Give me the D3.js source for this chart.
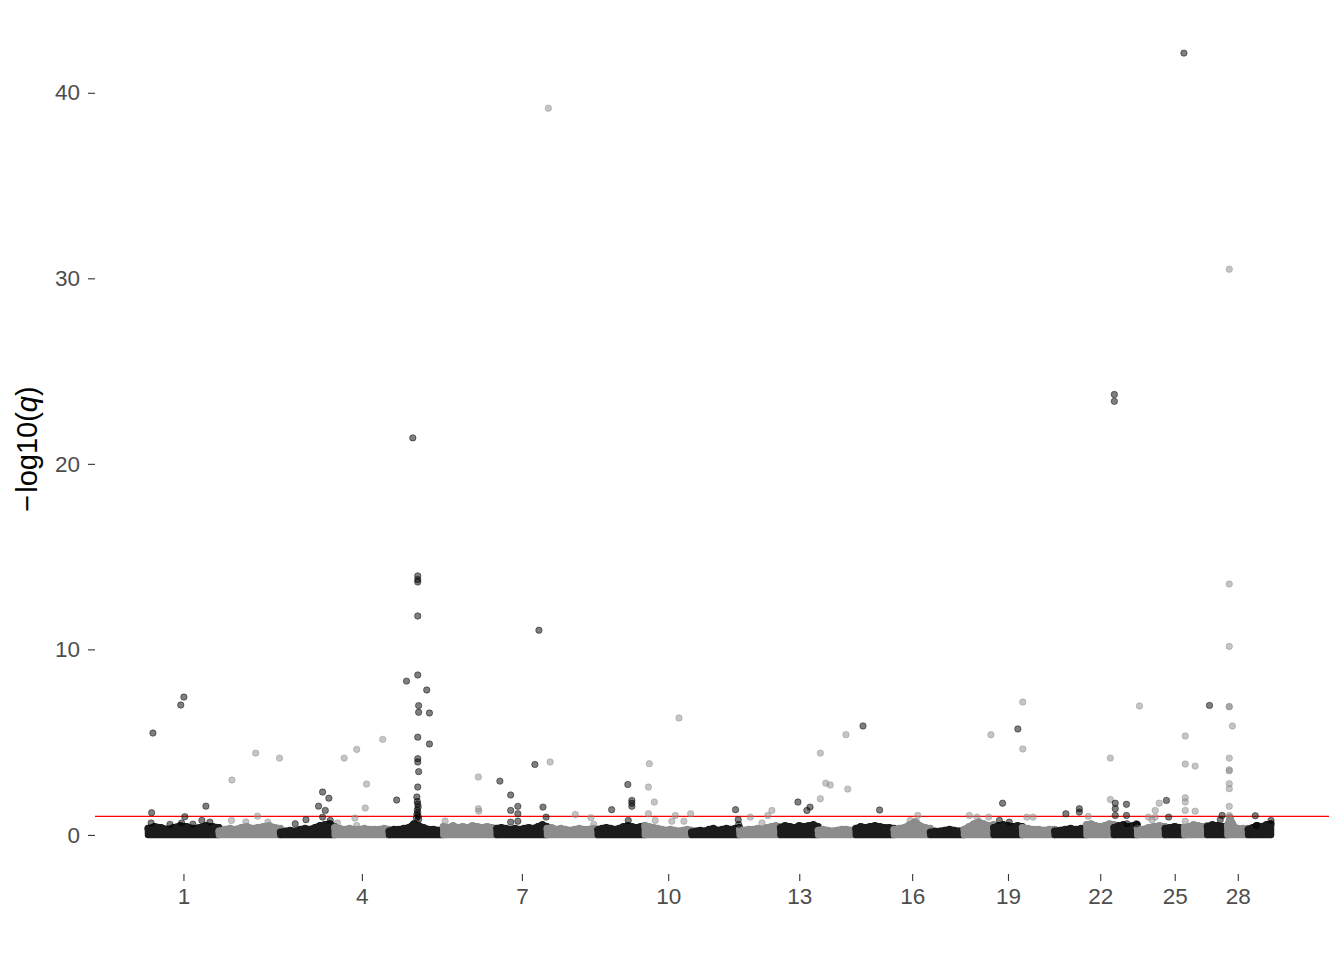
<!DOCTYPE html>
<html>
<head>
<meta charset="utf-8">
<script src="https://cdn.jsdelivr.net/npm/d3@7"></script>
<style>
  body { margin: 0; background: #fff; }
  text { font-family: "Liberation Sans", Arial, sans-serif; }
</style>
</head>
<body>
<div id="chart"></div>
<script>
// chromosome lengths (Mb), 29 autosomes
const chromLengths = [158, 137, 121, 121, 121, 119, 112, 113, 105, 104, 107, 91, 84, 84, 85,
                      81, 75, 66, 64, 72, 71, 61, 52, 62, 43, 51, 45, 46, 51];
const tickChroms = [1, 4, 7, 10, 13, 16, 19, 22, 25, 28];
const yTicks = [0, 10, 20, 30, 40];
const threshold = 1;

// top of the dense band of non-significant markers, sampled along each chromosome
const baseProfiles = [
  [0.35, 0.45, 0.4, 0.3, 0.4, 0.5, 0.45, 0.35, 0.4, 0.5, 0.45, 0.4],
  [0.2, 0.3, 0.35, 0.3, 0.4, 0.45, 0.35, 0.4, 0.45, 0.5, 0.4, 0.35],
  [0.15, 0.2, 0.25, 0.2, 0.3, 0.35, 0.3, 0.4, 0.5, 0.55, 0.6, 0.45],
  [0.4, 0.35, 0.3, 0.35, 0.3, 0.3, 0.35, 0.3, 0.3, 0.3, 0.35, 0.3],
  [0.2, 0.3, 0.3, 0.35, 0.4, 0.6, 0.5, 0.4, 0.3, 0.3, 0.25, 0.3],
  [0.45, 0.4, 0.5, 0.4, 0.45, 0.4, 0.5, 0.45, 0.4, 0.45, 0.4, 0.35],
  [0.35, 0.4, 0.35, 0.3, 0.35, 0.3, 0.35, 0.4, 0.35, 0.45, 0.55, 0.45],
  [0.35, 0.4, 0.3, 0.35, 0.3, 0.25, 0.3, 0.35, 0.3, 0.3, 0.35, 0.3],
  [0.3, 0.35, 0.4, 0.35, 0.3, 0.35, 0.45, 0.5, 0.45, 0.4, 0.45, 0.5],
  [0.5, 0.45, 0.4, 0.35, 0.3, 0.25, 0.3, 0.25, 0.2, 0.25, 0.3, 0.25],
  [0.15, 0.2, 0.25, 0.2, 0.3, 0.35, 0.25, 0.3, 0.35, 0.3, 0.35, 0.4],
  [0.3, 0.25, 0.3, 0.3, 0.35, 0.3, 0.4, 0.45, 0.5, 0.45],
  [0.4, 0.5, 0.45, 0.4, 0.5, 0.45, 0.5, 0.55, 0.45],
  [0.25, 0.3, 0.25, 0.2, 0.25, 0.3, 0.3, 0.25, 0.3],
  [0.35, 0.45, 0.4, 0.45, 0.5, 0.45, 0.4, 0.4, 0.35],
  [0.3, 0.35, 0.4, 0.55, 0.7, 0.5, 0.4, 0.35],
  [0.15, 0.2, 0.2, 0.25, 0.3, 0.25, 0.2, 0.25],
  [0.3, 0.45, 0.6, 0.7, 0.6, 0.5, 0.55],
  [0.4, 0.5, 0.55, 0.5, 0.45, 0.5, 0.45],
  [0.4, 0.35, 0.3, 0.3, 0.25, 0.3, 0.3],
  [0.2, 0.25, 0.3, 0.35, 0.3, 0.35, 0.4],
  [0.55, 0.6, 0.5, 0.45, 0.5, 0.6, 0.55],
  [0.4, 0.5, 0.55, 0.45, 0.5, 0.55],
  [0.35, 0.3, 0.4, 0.45, 0.5, 0.45],
  [0.35, 0.4, 0.45, 0.4, 0.35],
  [0.4, 0.45, 0.55, 0.5, 0.45, 0.5],
  [0.45, 0.55, 0.5, 0.45, 0.5],
  [0.5, 0.95, 0.6, 0.4, 0.35, 0.3, 0.35, 0.3, 0.35],
  [0.3, 0.4, 0.5, 0.45, 0.55, 0.6]
];

// markers that stand out: [chromosome, position (Mb), -log10(q)]
const hits = [
  [1, 11, 5.49], [1, 8, 1.2], [1, 7, 0.64], [1, 73, 7.0], [1, 80, 7.43], [1, 129, 1.55],
  [1, 82, 0.98], [1, 75, 0.64], [1, 100, 0.58], [1, 49, 0.57], [1, 120, 0.78], [1, 138, 0.69],
  [2, 29, 2.96], [2, 82, 4.41], [2, 135, 4.14], [2, 86, 1.01], [2, 28, 0.78], [2, 109, 0.69], [2, 60, 0.7],
  [3, 33, 0.6], [3, 57, 0.82], [3, 94, 2.31], [3, 108, 1.98], [3, 85, 1.55], [3, 100, 1.32],
  [3, 94, 0.96], [3, 111, 0.78],
  [4, 21, 4.14], [4, 49, 4.61], [4, 107, 5.15], [4, 71, 2.74], [4, 68, 1.45], [4, 45, 0.91],
  [4, 6, 0.64], [4, 49, 0.51],
  [5, 53, 21.4], [5, 64, 13.96], [5, 64, 13.76], [5, 64, 13.63], [5, 64, 11.8], [5, 64, 8.62],
  [5, 39, 8.29], [5, 84, 7.81], [5, 66, 6.97], [5, 66, 6.61], [5, 90, 6.57], [5, 64, 5.27],
  [5, 90, 4.9], [5, 64, 4.11], [5, 64, 3.93], [5, 66, 3.41], [5, 64, 2.58], [5, 17, 1.88],
  [5, 62, 2.04], [5, 63, 1.8], [5, 64, 1.65], [5, 65, 1.5], [5, 63, 1.35], [5, 64, 1.2],
  [5, 62, 1.1], [5, 65, 1.0], [5, 61, 0.9], [5, 66, 0.85],
  [6, 78, 3.12], [6, 78, 1.41], [6, 79, 1.28], [6, 4, 0.75],
  [7, 7, 2.9], [7, 31, 2.15], [7, 31, 1.32], [7, 47, 1.54], [7, 47, 1.14], [7, 47, 0.74],
  [7, 31, 0.69], [7, 85, 3.8], [7, 94, 11.03], [7, 103, 1.5], [7, 110, 0.96],
  [8, 7, 3.93], [8, 3, 39.17], [8, 63, 1.1], [8, 98, 0.93], [8, 104, 0.57],
  [9, 31, 1.36], [9, 67, 2.72], [9, 76, 1.86], [9, 76, 1.71], [9, 76, 1.54], [9, 68, 0.78],
  [10, 10, 3.84], [10, 8, 2.58], [10, 21, 1.77], [10, 76, 6.3], [10, 8, 1.14], [10, 68, 1.05],
  [10, 102, 1.14], [10, 87, 0.74], [10, 60, 0.74], [10, 23, 0.78],
  [11, 98, 1.36], [11, 104, 0.82], [11, 105, 0.57],
  [12, 24, 0.96], [12, 63, 1.05], [12, 72, 1.32], [12, 50, 0.64],
  [13, 39, 1.77], [13, 59, 1.32], [13, 66, 1.5],
  [14, 5, 4.41], [14, 5, 1.95], [14, 17, 2.79], [14, 27, 2.69], [14, 62, 5.4], [14, 66, 2.47],
  [15, 16, 5.87], [15, 53, 1.34],
  [16, 53, 1.05], [16, 51, 0.69], [16, 36, 0.78],
  [18, 60, 5.4], [18, 12, 1.05], [18, 29, 0.96], [18, 55, 0.96],
  [19, 54, 5.71], [19, 20, 1.71], [19, 13, 0.78], [19, 35, 0.69],
  [20, 1, 7.16], [20, 1, 4.63], [20, 10, 0.96], [20, 24, 0.96],
  [21, 25, 1.14], [21, 55, 1.41], [21, 55, 1.23],
  [22, 4, 1.0], [22, 53, 4.14], [22, 53, 1.91],
  [23, 1, 23.74], [23, 1, 23.37], [23, 3, 1.71], [23, 3, 1.41], [23, 3, 1.05], [23, 28, 1.65],
  [23, 28, 1.05], [23, 29, 0.6], [23, 50, 0.6],
  [24, 5, 6.95], [24, 25, 0.96], [24, 40, 1.32], [24, 40, 0.96], [24, 49, 1.71], [24, 33, 0.8],
  [25, 42, 42.14], [25, 3, 1.86], [25, 8, 0.96],
  [26, 2, 5.33], [26, 2, 3.82], [26, 24, 3.71], [26, 2, 2.0], [26, 2, 1.77], [26, 2, 1.32],
  [26, 24, 1.28], [26, 2, 0.74],
  [27, 5, 6.98], [27, 33, 1.05], [27, 29, 0.82],
  [28, 4, 30.49], [28, 4, 13.52], [28, 4, 10.16], [28, 4, 6.93], [28, 4, 6.9], [28, 11, 5.87],
  [28, 4, 4.14], [28, 4, 3.51], [28, 4, 3.45], [28, 4, 2.76], [28, 4, 2.49], [28, 4, 1.54], [28, 4, 1.05],
  [29, 16, 1.03], [29, 51, 0.78], [29, 18, 0.51]
];

// --- setup ---
const width = 1344, height = 960;
const panel = { left: 95, right: 1329, top: 14, bottom: 874 };

const chromStart = [];
let acc = 0;
chromLengths.forEach(l => { chromStart.push(acc); acc += l; });
const genomeLength = acc;

const x = d3.scaleLinear().domain([0, genomeLength]).range([148, 1271]);
const yMax = d3.max(hits, d => d[2]);
const y = d3.scaleLinear()
  .domain([-0.05 * yMax, 1.05 * yMax])
  .range([panel.bottom, panel.top]);

const bandColor = chr => (chr % 2 === 1 ? "#1c1c1c" : "#8c8c8c");
const pointColor = chr => (chr % 2 === 1 ? "#000000" : "#8c8c8c");

const svg = d3.select("#chart").append("svg")
  .attr("width", width)
  .attr("height", height)
  .style("background", "#fff");

// --- dense band of background markers ---
const bandArea = d3.area()
  .x(d => x(d.pos))
  .y0(y(0))
  .y1(d => y(d.val));

const bandG = svg.append("g");
baseProfiles.forEach((prof, i) => {
  const chr = i + 1;
  const len = chromLengths[i];
  const pts = prof.map((v, j) => ({ pos: chromStart[i] + len * j / (prof.length - 1), val: v }));
  bandG.append("path")
    .datum(pts)
    .attr("d", bandArea)
    .attr("fill", bandColor(chr))
    .attr("stroke", bandColor(chr))
    .attr("stroke-width", 6.5)
    .attr("stroke-linejoin", "round");
  bandG.selectAll(null)
    .data(pts)
    .enter().append("circle")
    .attr("cx", d => x(d.pos))
    .attr("cy", d => y(d.val))
    .attr("r", 3.6)
    .attr("fill", bandColor(chr));
});

// --- threshold line ---
svg.append("line")
  .attr("x1", panel.left).attr("x2", panel.right)
  .attr("y1", y(threshold)).attr("y2", y(threshold))
  .attr("stroke", "#ff0000")
  .attr("stroke-width", 1.1);

// --- significant / notable markers ---
svg.append("g").selectAll("circle")
  .data(hits)
  .enter().append("circle")
  .attr("cx", d => x(chromStart[d[0] - 1] + d[1]))
  .attr("cy", d => y(d[2]))
  .attr("r", 3.2)
  .attr("fill", d => pointColor(d[0]))
  .attr("fill-opacity", 0.5)
  .attr("stroke", d => pointColor(d[0]))
  .attr("stroke-opacity", 0.5)
  .attr("stroke-width", 0.9);

// --- axes ---
const yAxis = svg.append("g")
  .attr("transform", `translate(${panel.left},0)`)
  .call(d3.axisLeft(y).tickValues(yTicks).tickSize(7).tickPadding(8));

const xAxis = svg.append("g")
  .attr("transform", `translate(0,${panel.bottom})`)
  .call(d3.axisBottom(x)
    .tickValues(tickChroms.map(c => chromStart[c - 1] + chromLengths[c - 1] / 2))
    .tickFormat((d, i) => tickChroms[i])
    .tickSize(7).tickPadding(7));

[yAxis, xAxis].forEach(ax => {
  ax.select(".domain").remove();
  ax.selectAll(".tick line").attr("stroke", "#333333").attr("stroke-width", 1.1);
  ax.selectAll(".tick text")
    .attr("fill", "#4d4d4d")
    .style("font-size", "22.5px")
    .style("font-family", "'Liberation Sans', Arial, sans-serif");
});

// --- y title ---
const title = svg.append("text")
  .attr("transform", `translate(37,${(panel.top + panel.bottom) / 2 + 5}) rotate(-90)`)
  .attr("text-anchor", "middle")
  .attr("fill", "#000")
  .style("font-size", "29px");
title.append("tspan").text("\u2212");
title.append("tspan").attr("dx", 2).text("log10(");
title.append("tspan").style("font-style", "italic").text("q");
title.append("tspan").text(")");
</script>
</body>
</html>
